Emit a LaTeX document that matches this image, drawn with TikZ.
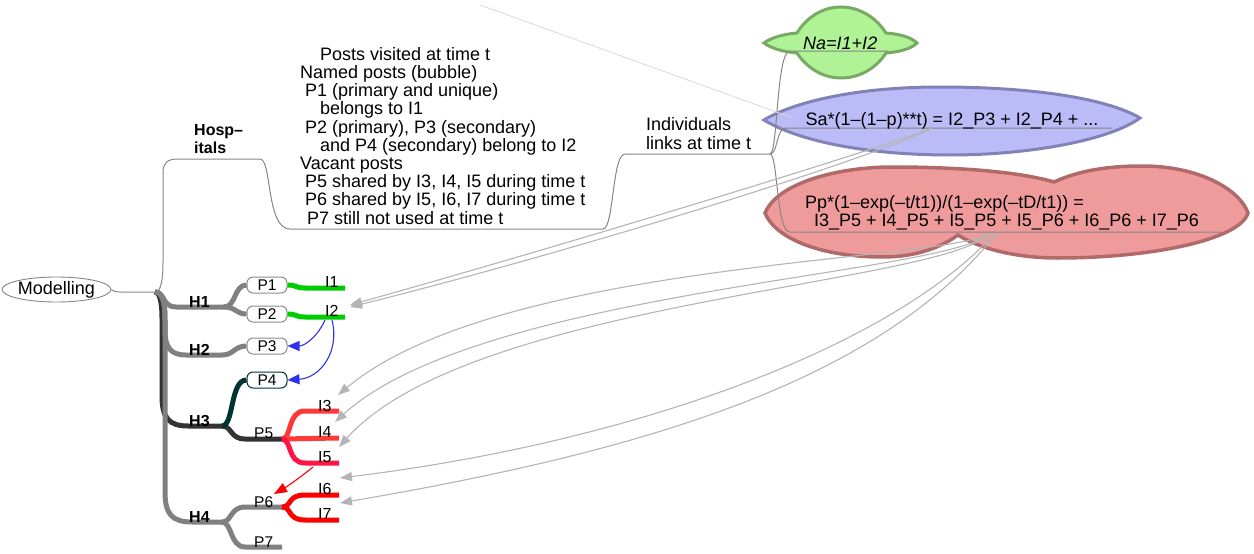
\documentclass[tikz,border=0pt]{standalone}
\usepackage{fontspec}
\setmainfont{Liberation Sans}
\usetikzlibrary{arrows.meta,shapes.geometric}
\definecolor{branchgray}{HTML}{808080}
\definecolor{linkgray}{HTML}{858585}
\definecolor{boxgray}{HTML}{8C8C8C}
\definecolor{darkbranch}{HTML}{333333}
\definecolor{tealdark}{HTML}{003333}
\definecolor{greenbr}{HTML}{00CC00}
\definecolor{redA}{HTML}{FF3838}
\definecolor{redB}{HTML}{FF1446}
\definecolor{redC}{HTML}{FF0000}
\definecolor{bluearr}{HTML}{3030F0}
\definecolor{arrowgray}{HTML}{B4B4B4}
\definecolor{faintgray}{HTML}{DCDCDC}
\definecolor{greenfill}{HTML}{B0F296}
\definecolor{greenline}{HTML}{78AA64}
\definecolor{bluefill}{HTML}{BBBBF7}
\definecolor{blueline}{HTML}{8282B8}
\definecolor{redfill}{HTML}{F09B9B}
\definecolor{redline}{HTML}{B06A6A}
\begin{document}
\begin{tikzpicture}[x=1pt,y=-1pt,
  thinlink/.style={draw=linkgray, line width=1pt},
  branch/.style={line width=5pt},
  pbox/.style={draw=boxgray, fill=white, rounded corners=6pt, minimum width=40pt, minimum height=16pt, inner sep=0pt, line width=1pt, font=\fontsize{15.5}{16}\selectfont},
  lbl/.style={anchor=base west, inner sep=0pt, font=\fontsize{16}{16}\selectfont},
  hlbl/.style={anchor=base west, inner sep=0pt, align=left, font=\bfseries\fontsize{16}{17.5}\selectfont},
  bigtxt/.style={anchor=base west, inner sep=0pt, align=left, font=\fontsize{18}{18.2}\selectfont},
  grayarrow/.style={draw=arrowgray, line width=1.1pt, -{Triangle[length=12pt,width=9pt]}},
  bluearrow/.style={draw=bluearr, line width=1.1pt, -{Triangle[length=12pt,width=10pt]}},
  redarrow/.style={draw=redC, line width=1.1pt, -{Triangle[length=13pt,width=10pt]}},
  cloud/.style={line width=3pt}
]
\useasboundingbox (0,0) rectangle (1254,554);

% ---------- clouds ----------
\draw[cloud, draw=greenline, fill=greenfill]
  (764,43) .. controls (772,37) and (785,34) .. (797,33)
  .. controls (806,18) and (822,7) .. (841,7)
  .. controls (861,7) and (877,19) .. (886,33)
  .. controls (899,34) and (911,37) .. (917,43)
  .. controls (911,49) and (899,52) .. (886,53)
  .. controls (877,67) and (861,78) .. (841,78)
  .. controls (822,78) and (806,67) .. (797,53)
  .. controls (785,52) and (772,49) .. (764,43) -- cycle;

\draw[cloud, draw=blueline, fill=bluefill]
  (764,120) .. controls (790,104) and (850,87) .. (940,87)
  .. controls (1040,87) and (1110,100) .. (1140,118)
  .. controls (1110,140) and (1030,155) .. (950,155)
  .. controls (870,155) and (800,142) .. (764,120) -- cycle;

\draw[cloud, line width=3.5pt, draw=redline, fill=redfill]
  (765,213) .. controls (778,182) and (840,167) .. (892,167)
  .. controls (960,167) and (1020,172) .. (1054,182)
  .. controls (1080,170) and (1110,166) .. (1142,166)
  .. controls (1200,166) and (1240,190) .. (1248,213)
  .. controls (1240,240) and (1150,258) .. (1058,258)
  .. controls (1010,258) and (975,246) .. (958,235)
  .. controls (940,248) and (915,257) .. (883,257)
  .. controls (820,257) and (775,238) .. (765,213) -- cycle;

% ---------- coordinates ----------
\coordinate (root) at (155,292);
\coordinate (h1e) at (224,307);
\coordinate (h3e) at (222,426);
\coordinate (h4e) at (222,522);
\coordinate (p5f) at (282,439);
\coordinate (p6f) at (282,507);
\coordinate (hospL) at (177,159);
\coordinate (hospR) at (260,159);
\coordinate (postsL) at (290,229);
\coordinate (postsR) at (603,229);
\coordinate (indL) at (625,154);
\coordinate (indR) at (770,154);
\coordinate (greenL) at (790,51);
\coordinate (greenR) at (888,51);
\coordinate (blueL) at (786,128);
\coordinate (blueR) at (1112,128);
\coordinate (redL) at (790,232);
\coordinate (redR) at (1221,232);
\coordinate (blueSrc) at (932,128);
\coordinate (redSrc) at (990,233);
\coordinate (faintA) at (480,5);
\coordinate (faintB) at (793,118);

% ---------- nodes ----------
\node[draw=linkgray, line width=0.9pt, ellipse, minimum width=97pt, minimum height=25pt, inner sep=0pt, font=\fontsize{18}{18}\selectfont] (model) at (56.5,289.5) {Modelling};
\node[pbox] (p1) at (267,285) {P1};
\node[pbox] (p2) at (267,314) {P2};
\node[pbox] (p3) at (267,346) {P3};
\node[pbox, draw=tealdark] (p4) at (267,380) {P4};

% ---------- thin links ----------
\draw[thinlink] (model.east) .. controls (112,289) and (111,292) .. (121,292) -- (root);
\draw[thinlink] (root) .. controls (161,292) and (163,280) .. (163,262) -- (163,172)
  .. controls (163,163) and (168,159) .. (hospL) -- (hospR)
  .. controls (272,159) and (266,229) .. (postsL) -- (postsR)
  .. controls (614,229) and (612,154) .. (indL) -- (indR);
\draw[thinlink] (indR) .. controls (778,154) and (776,51) .. (greenL) -- (greenR);
\draw[thinlink] (indR) .. controls (778,154) and (776,128) .. (blueL) -- (blueR);
\draw[thinlink] (indR) .. controls (778,154) and (776,232) .. (redL) -- (redR);
\draw[draw=faintgray, line width=0.9pt] (faintA) -- (faintB);

% ---------- thick branches ----------
\draw[branch, draw=darkbranch] (root) .. controls (159,292) and (162,300) .. (162,318) -- (162,396)
  .. controls (162,418) and (169,426) .. (188,426) -- (h3e);
\draw[branch, draw=branchgray] (root) .. controls (162,292) and (165,300) .. (165,320) -- (165,492)
  .. controls (165,514) and (172,522) .. (192,522) -- (h4e);
\draw[branch, draw=branchgray] (h4e) .. controls (232,522) and (230,507) .. (245,507) -- (p6f);
\draw[branch, draw=branchgray] (h4e) .. controls (232,522) and (230,547) .. (245,547) -- (282,547);
\draw[branch, draw=branchgray] (root) .. controls (162,292) and (165,300) .. (165,320) -- (165,330)
  .. controls (165,348) and (171,355) .. (186,355) -- (222,355)
  .. controls (234,355) and (234,346) .. (p3.west);
\draw[branch, draw=branchgray] (root) .. controls (165,292) and (162,307) .. (176,307) -- (h1e);
\draw[branch, draw=branchgray] (h1e) .. controls (236,307) and (234,285) .. (p1.west);
\draw[branch, draw=branchgray] (h1e) .. controls (236,307) and (236,314) .. (p2.west);
\draw[branch, draw=darkbranch] (h3e) .. controls (232,426) and (230,439) .. (245,439) -- (p5f);
\draw[branch, draw=tealdark] (h3e) .. controls (234,426) and (230,380) .. (p4.west);

% green
\draw[branch, draw=greenbr] (p1.east) .. controls (297,285) and (295,288) .. (305,288) -- (345,288);
\draw[branch, draw=greenbr] (p2.east) .. controls (297,314) and (295,317) .. (305,317) -- (345,317);
% red forks
\draw[branch, draw=redA] (p5f) .. controls (292,439) and (287,411) .. (305,411) -- (339,411);
\draw[branch, draw=redA] (p5f) -- (339,438);
\draw[branch, draw=redB] (p5f) .. controls (292,439) and (287,463) .. (305,463) -- (339,463);
\draw[branch, draw=redC] (p6f) .. controls (292,507) and (287,495) .. (305,495) -- (339,495);
\draw[branch, draw=redC] (p6f) .. controls (292,507) and (287,520) .. (305,520) -- (339,520);

% ---------- labels ----------
\node[hlbl] (h1) at (189,307) {H1};
\node[hlbl] (h2) at (189,355) {H2};
\node[hlbl] (h3) at (189,426) {H3};
\node[hlbl] (h4) at (189,522) {H4};
\node[lbl, font=\fontsize{15.5}{16}\selectfont] (p5) at (254,438) {P5};
\node[lbl, font=\fontsize{15.5}{16}\selectfont] (p6) at (254,507) {P6};
\node[lbl, font=\fontsize{15.5}{16}\selectfont] (p7) at (254,547) {P7};
\node[lbl] (i1) at (325,287) {I1};
\node[lbl] (i2) at (325,316) {I2};
\node[lbl] (i3) at (318,411) {I3};
\node[lbl] (i4) at (318,437) {I4};
\node[lbl] (i5) at (318,462) {I5};
\node[lbl] (i6) at (318,494) {I6};
\node[lbl] (i7) at (318,519) {I7};

% multi-line nodes: base anchor is on the last line
\node[hlbl] (hosp) at (194,153) {Hosp–\\itals};
\node[bigtxt] (posts) at (300,224) {\hspace*{20pt}Posts visited at time t\\
Named posts (bubble)\\
\hspace*{5pt}P1 (primary and unique)\\
\hspace*{20pt}belongs to I1\\
\hspace*{5pt}P2 (primary), P3 (secondary)\\
\hspace*{20pt}and P4 (secondary) belong to I2\\
Vacant posts\\
\hspace*{5pt}P5 shared by I3, I4, I5 during time t\\
\hspace*{5pt}P6 shared by I5, I6, I7 during time t\\
\hspace*{7pt}P7 still not used at time t};
\node[bigtxt] (ind) at (646,149) {Individuals\\links at time t};
\node[bigtxt] (na) at (803,49) {\itshape Na=I1+I2};
\node[bigtxt] (sa) at (805.5,125.5) {Sa*(1–(1–p)**t) = I2\_P3 + I2\_P4 + ...};
\node[bigtxt, font=\fontsize{18}{17.5}\selectfont] (pp) at (805,226) {Pp*(1–exp(–t/t1))/(1–exp(–tD/t1)) =\\\hspace*{9pt}I3\_P5 + I4\_P5 + I5\_P5 + I5\_P6 + I6\_P6 + I7\_P6};

% ---------- arrows ----------
\draw[bluearrow] (325,320) .. controls (318,336) and (305,346) .. (p3.east);
\draw[bluearrow] (332,320) .. controls (340,352) and (320,378) .. (p4.east);
\draw[redarrow] (313,467) .. controls (302,476) and (288,486) .. (274,494);

\coordinate (t2a) at (350,305);
\coordinate (t2b) at (350,307);
\coordinate (t3) at (338,395);
\coordinate (t4) at (335,422);
\coordinate (t5) at (339,447);
\coordinate (t6) at (340,478);
\coordinate (t7) at (340,503);
\draw[grayarrow] (blueSrc) .. controls (900,142) and (600,235) .. (t2a);
\draw[grayarrow] (blueSrc) .. controls (870,160) and (560,255) .. (t2b);
\draw[grayarrow] (redSrc) .. controls (950,262) and (500,260) .. (t3);
\draw[grayarrow] (redSrc) .. controls (950,275) and (480,290) .. (t4);
\draw[grayarrow] (redSrc) .. controls (945,285) and (470,300) .. (t5);
\draw[grayarrow] (995,233) .. controls (900,340) and (650,440) .. (t6);
\draw[grayarrow] (997,233) .. controls (880,380) and (650,450) .. (t7);
\end{tikzpicture}
\end{document}
